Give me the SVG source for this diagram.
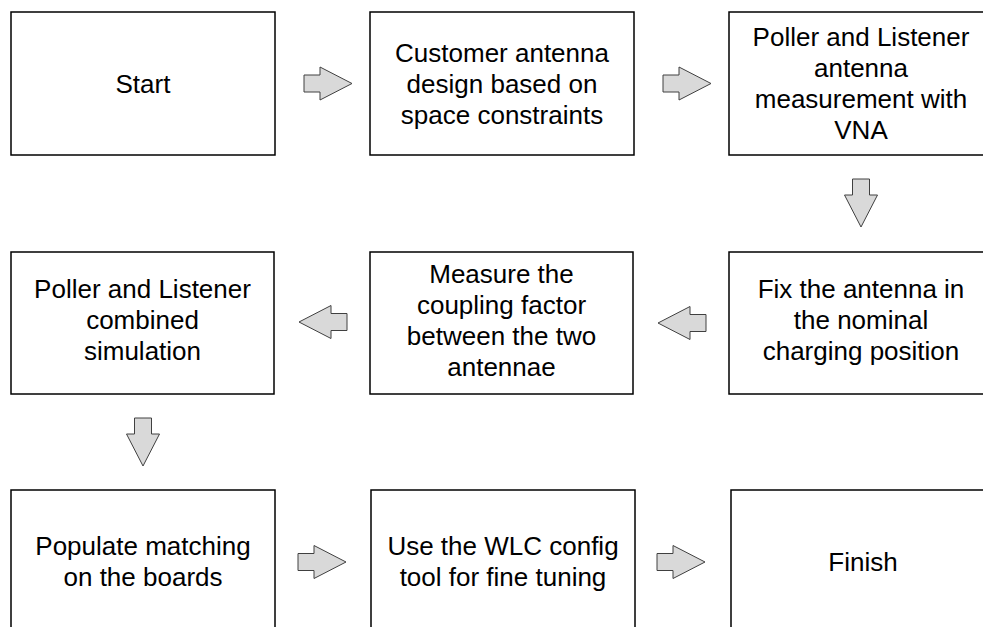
<svg xmlns="http://www.w3.org/2000/svg" xmlns:xlink="http://www.w3.org/1999/xlink" width="983" height="627" viewBox="0 0 983 627">
<style>
.box{fill:#fff;stroke:#000;stroke-width:1.5}
.lbl{font-family:"Liberation Sans",Arial,sans-serif;font-size:26px;fill:#000;text-anchor:middle}
.arr{fill:#d9d9d9;stroke:#404040;stroke-width:1;stroke-linejoin:miter}
</style>
<defs>
<path id="arrow" class="arr" d="M-48,-8.5 H-32 V-16.5 L0,0 L-32,16.5 V8.5 H-48 Z"/>
</defs>
<rect width="983" height="627" fill="#fff"/>
<g id="connectors">
<use xlink:href="#arrow" transform="translate(352,83.5)"/>
<use xlink:href="#arrow" transform="translate(711,83.5)"/>
<use xlink:href="#arrow" transform="translate(861,227) rotate(90)"/>
<use xlink:href="#arrow" transform="translate(658,323) rotate(180)"/>
<use xlink:href="#arrow" transform="translate(299,322) rotate(180)"/>
<use xlink:href="#arrow" transform="translate(143,466) rotate(90)"/>
<use xlink:href="#arrow" transform="translate(346,562)"/>
<use xlink:href="#arrow" transform="translate(705,562)"/>
</g>
<g id="start">
<rect class="box" x="11" y="12" width="264" height="143"/>
<text class="lbl" x="143" y="92.8">Start</text>
</g>
<g id="customer-design">
<rect class="box" x="370" y="12" width="264" height="143"/>
<text class="lbl" x="502" y="62">Customer antenna</text>
<text class="lbl" x="502" y="93">design based on</text>
<text class="lbl" x="502" y="124">space constraints</text>
</g>
<g id="vna-measurement">
<rect class="box" x="729" y="12" width="264" height="143"/>
<text class="lbl" x="861" y="46">Poller and Listener</text>
<text class="lbl" x="861" y="77">antenna</text>
<text class="lbl" x="861" y="108">measurement with</text>
<text class="lbl" x="861" y="139">VNA</text>
</g>
<g id="fix-antenna">
<rect class="box" x="729" y="252" width="264" height="142"/>
<text class="lbl" x="861" y="298">Fix the antenna in</text>
<text class="lbl" x="861" y="329">the nominal</text>
<text class="lbl" x="861" y="360">charging position</text>
</g>
<g id="measure-coupling">
<rect class="box" x="370" y="252" width="263" height="142"/>
<text class="lbl" x="501.5" y="283">Measure the</text>
<text class="lbl" x="501.5" y="314">coupling factor</text>
<text class="lbl" x="501.5" y="345">between the two</text>
<text class="lbl" x="501.5" y="376">antennae</text>
</g>
<g id="combined-simulation">
<rect class="box" x="11" y="252" width="263" height="142"/>
<text class="lbl" x="142.5" y="298">Poller and Listener</text>
<text class="lbl" x="142.5" y="329">combined</text>
<text class="lbl" x="142.5" y="360">simulation</text>
</g>
<g id="populate-matching">
<rect class="box" x="11" y="490" width="264" height="143"/>
<text class="lbl" x="143" y="555.3">Populate matching</text>
<text class="lbl" x="143" y="586.3">on the boards</text>
</g>
<g id="wlc-config">
<rect class="box" x="371" y="490" width="264" height="143"/>
<text class="lbl" x="503" y="555.3">Use the WLC config</text>
<text class="lbl" x="503" y="586.3">tool for fine tuning</text>
</g>
<g id="finish">
<rect class="box" x="731" y="490" width="264" height="143"/>
<text class="lbl" x="863" y="570.8">Finish</text>
</g>
</svg>
